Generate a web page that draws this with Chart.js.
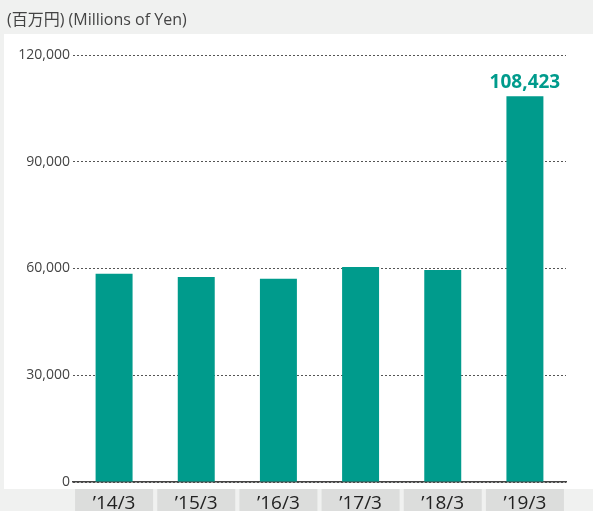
<!DOCTYPE html>
<html lang="ja">
<head>
<meta charset="UTF-8">
<title>Millions of Yen</title>
<script src="https://cdn.jsdelivr.net/npm/chart.js@4.4.3/dist/chart.umd.min.js"></script>
<style>
  * { margin: 0; padding: 0; box-sizing: border-box; }
  body { background: #f0f1f0; width: 593px; height: 511px; overflow: hidden; }
  .wrap { position: relative; width: 593px; height: 511px; }
</style>
</head>
<body>
<div class="wrap"><canvas id="chart"></canvas></div>
<script>
const years = ['\u201914/3', '\u201915/3', '\u201916/3', '\u201917/3', '\u201918/3', '\u201919/3'];
const sales = [58500, 57600, 57100, 60400, 59600, 108423];
const yTicks = [0, 30000, 60000, 90000, 120000];
const unitLabel = '(百万円) (Millions of Yen)';

const TEAL = '#009b8c';
const FONT = "'Open Sans', 'Noto Sans CJK JP', sans-serif";

// white panel, grey label boxes and the unit caption
const backdrop = {
  id: 'backdrop',
  beforeDraw(chart) {
    const { ctx } = chart;
    const x = chart.scales.x;
    ctx.save();
    ctx.fillStyle = '#ffffff';
    ctx.fillRect(4, 34, 589, 455);
    ctx.fillStyle = '#dcdddc';
    years.forEach((_, i) => {
      const cx = x.getPixelForValue(i);
      ctx.fillRect(cx - 39, 489, 78, 22);
    });
    ctx.fillStyle = '#444';
    ctx.font = '16px ' + FONT;
    ctx.textBaseline = 'middle';
    ctx.fillText(unitLabel, 7, 20);
    ctx.restore();
  }
};

// value on the latest bar
const lastValue = {
  id: 'lastValue',
  afterDatasetsDraw(chart) {
    const { ctx } = chart;
    const meta = chart.getDatasetMeta(0);
    const i = sales.length - 1;
    const bar = meta.data[i];
    ctx.save();
    ctx.fillStyle = TEAL;
    ctx.font = 'bold 19px ' + FONT;
    ctx.textAlign = 'center';
    ctx.textBaseline = 'alphabetic';
    ctx.fillText(sales[i].toLocaleString('en-US'), bar.x, bar.y - 8);
    ctx.restore();
  }
};

new Chart(document.getElementById('chart'), {
  type: 'bar',
  data: {
    labels: years,
    datasets: [{
      data: sales,
      backgroundColor: TEAL,
      borderWidth: 0,
      categoryPercentage: 1,
      barPercentage: 0.45
    }]
  },
  options: {
    responsive: true,
    maintainAspectRatio: false,
    animation: false,
    layout: { padding: { top: 55, right: 27, bottom: 0, left: 0 } },
    plugins: { legend: { display: false }, tooltip: { enabled: false } },
    scales: {
      x: {
        grid: { display: false },
        border: { display: true, color: '#444', width: 1.5 },
        ticks: { color: '#222', font: { family: FONT, size: 19 }, padding: 2, maxRotation: 0 },
        afterFit(s) { s.height = 29; }
      },
      y: {
        min: 0,
        max: 120000,
        afterBuildTicks(s) { s.ticks = yTicks.map(v => ({ value: v })); },
        grid: { color: '#555', drawTicks: false, lineWidth: 1 },
        border: { display: false, dash: [2, 2] },
        ticks: {
          color: '#444',
          font: { family: FONT, size: 14 },
          padding: 3,
          callback: v => v.toLocaleString('en-US')
        },
        afterFit(s) { s.width = 73; }
      }
    }
  },
  plugins: [backdrop, lastValue]
});
</script>
</body>
</html>
